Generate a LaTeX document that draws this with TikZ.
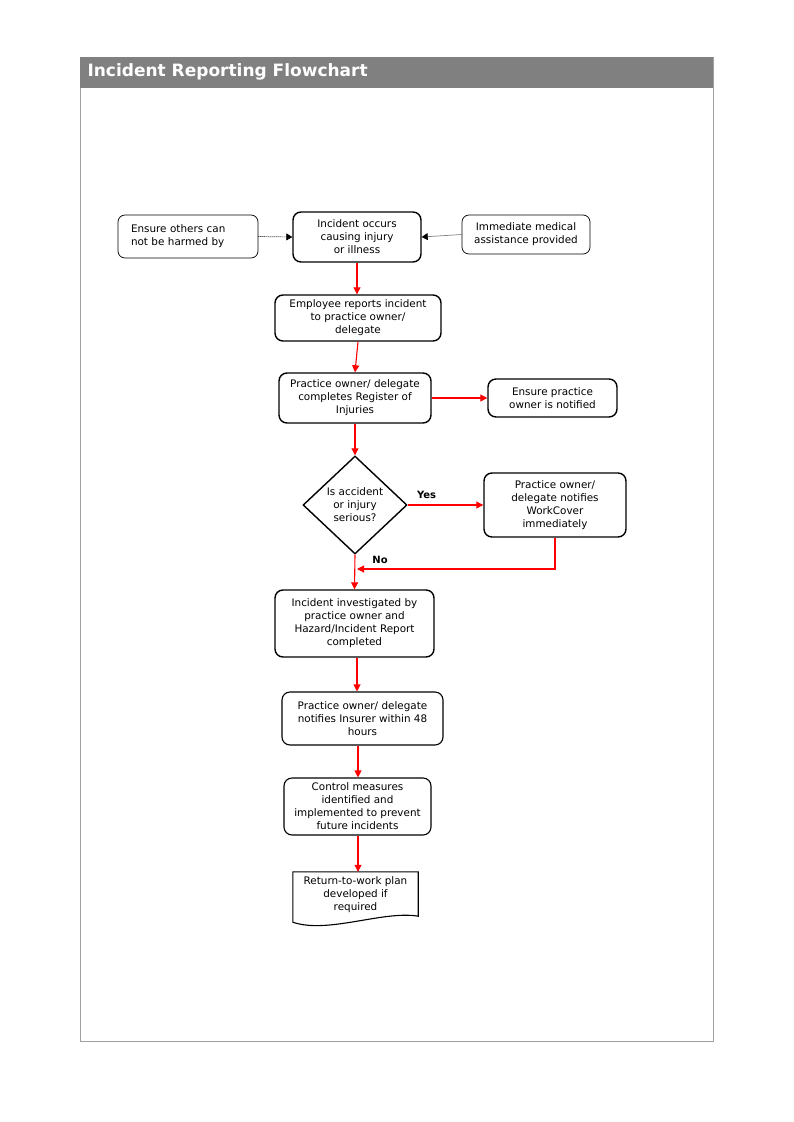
\documentclass[tikz,border=0pt]{standalone}
\usepackage{fontspec}
\setmainfont{DejaVu Sans}
\usetikzlibrary{shapes.geometric,arrows.meta}
\definecolor{hdr}{HTML}{808080}
\definecolor{frame}{HTML}{A0A0A0}
\begin{document}
\begin{tikzpicture}[x=1pt,y=-1pt,
  every node/.style={font=\fontsize{10.4}{13}\selectfont, align=center},
  thickbox/.style={draw, line width=1.4pt, rounded corners=8pt, inner sep=0pt},
  medbox/.style={draw, line width=1.1pt, rounded corners=8pt, inner sep=0pt},
  thinbox/.style={draw, line width=0.7pt, rounded corners=7pt, inner sep=0pt},
  flow/.style={draw=red, line width=1.1pt, -{Triangle[length=7pt,width=7pt]}},
  side/.style={line width=0.7pt, -{Triangle[length=6pt,width=7pt,color=black]}},
  lbl/.style={font=\bfseries\fontsize{10}{12}\selectfont}]
\useasboundingbox (0,0) rectangle (793,1122);
\fill[white] (0,0) rectangle (793,1122);
\draw[frame, line width=1pt] (80,57) rectangle (713,1041);
\fill[hdr] (80,57) rectangle (713,88);
\node[anchor=west, text=white, font=\bfseries\fontsize{17}{19}\selectfont] (title) at (84,72) {Incident Reporting Flowchart};

\node[thinbox, text width=114pt, align=left, inner xsep=13pt, minimum height=43pt] (left) at (188,236.5) {Ensure others can\\not be harmed by};
\node[thickbox, minimum width=128pt, minimum height=50pt] (incident) at (357,237) {Incident occurs\\causing injury\\or illness};
\node[thinbox, minimum width=128pt, minimum height=39pt] (medical) at (526,234.5) {\raisebox{-3pt}{\begin{tabular}{@{}c@{}}Immediate medical\\assistance provided\end{tabular}}};
\node[thickbox, minimum width=166pt, minimum height=46pt] (employee) at (358,318) {Employee reports incident\\to practice owner/\\delegate};
\node[thickbox, minimum width=152pt, minimum height=50pt] (register) at (355,398) {Practice owner/ delegate\\completes Register of\\Injuries};
\node[thickbox, minimum width=129pt, minimum height=38pt] (notified) at (552.5,398) {Ensure practice\\owner is notified};
\node[draw, diamond, line width=1.4pt, minimum width=104pt, minimum height=98pt, inner sep=0pt] (diamond) at (355,505) {Is accident\\or injury\\serious?};
\node[thickbox, minimum width=142pt, minimum height=64pt] (workcover) at (555,505) {Practice owner/\\delegate notifies\\WorkCover\\immediately};
\node[thickbox, minimum width=159pt, minimum height=67pt] (investigated) at (354.5,623.5) {Incident investigated by\\practice owner and\\Hazard/Incident Report\\completed};
\node[medbox, minimum width=161pt, minimum height=53pt] (insurer) at (362.5,718.5) {Practice owner/ delegate\\notifies Insurer within 48\\hours};
\node[medbox, minimum width=147pt, minimum height=57pt] (control) at (357.5,806.5) {Control measures\\identified and\\implemented to prevent\\future incidents};
\node[minimum width=125pt, minimum height=46pt, inner sep=0pt] (doc) at (355.5,895) {Return-to-work plan\\developed if\\required};
\draw[line width=1.1pt] (doc.south west) ++(0,4) coordinate (dl) (doc.north west) -- (doc.north east) -- ([yshift=2pt]doc.south east)
  .. controls +(-35,-6) and +(35,12) .. (dl) -- cycle;

\draw[side, dash pattern=on 1pt off 1pt] (left.east) -- (incident.west);
\draw[side, draw=gray] (medical.west) -- (incident.east);

\draw[flow] (incident.south) -- (incident.south |- employee.north);
\draw[flow] (employee.south) -- (register.north);
\draw[flow] (register.east) -- (notified.west);
\draw[flow] (register.south) -- (diamond.north);
\draw[flow] (diamond.east) -- node[lbl, above, pos=0.25, yshift=2pt] (yes) {Yes} (workcover.west);
\coordinate (nojoin) at (357,569);
\draw[flow] (workcover.south) |- (nojoin);
\node[lbl] (no) at (380,560) {No};
\draw[flow] (diamond.south) -- (investigated.north);
\draw[flow] ([xshift=2.5pt]investigated.south) -- ([xshift=2.5pt]investigated.south |- insurer.north);
\draw[flow] ([xshift=-4.5pt]insurer.south) -- ([xshift=-4.5pt]insurer.south |- control.north);
\draw[flow] ([xshift=0.5pt]control.south) -- ([xshift=0.5pt]control.south |- doc.north);
\end{tikzpicture}
\end{document}
